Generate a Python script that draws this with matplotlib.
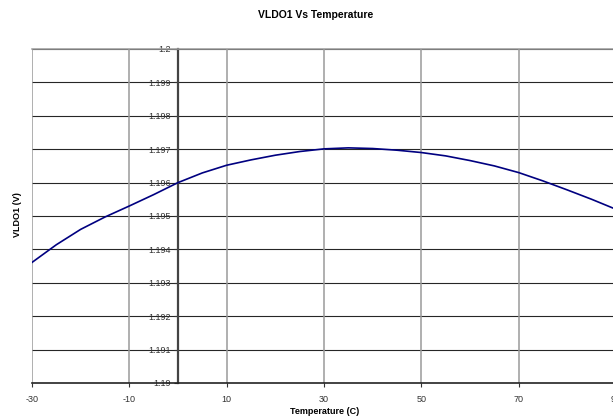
import numpy as np
import matplotlib
matplotlib.use("Agg")
import matplotlib.pyplot as plt

plt.rcParams['font.family'] = ['Liberation Sans', 'DejaVu Sans']

# VLDO1 output vs temperature
temperature = [-30, -25, -20, -15, -10, -5, 0, 5, 10, 15, 20, 25, 30,
               35, 40, 45, 50, 55, 60, 65, 70, 75, 80, 85, 90]
vldo1 = [1.19361, 1.19414, 1.19460, 1.19497, 1.19530, 1.19564, 1.19600,
         1.19629, 1.19652, 1.19668, 1.19682, 1.19693, 1.19701, 1.19704,
         1.19702, 1.19697, 1.19690, 1.19680, 1.19666, 1.19650, 1.19630,
         1.19605, 1.19578, 1.19550, 1.19520]

xticks = [-30, -10, 10, 30, 50, 70, 90]
yticks = [1.19, 1.191, 1.192, 1.193, 1.194, 1.195, 1.196, 1.197, 1.198, 1.199, 1.2]
ylabels = ['1.19', '1.191', '1.192', '1.193', '1.194', '1.195', '1.196',
           '1.197', '1.198', '1.199', '1.2']

fig = plt.figure(figsize=(6.13, 4.18), dpi=100)
ax = fig.add_axes([32/613, 1 - 383/418, 584/613, 334/418])

ax.set_xlim(-30, 90)
ax.set_ylim(1.19, 1.2)

# gridlines: dark horizontals, grey verticals
for yv in yticks[1:]:
    ax.axhline(yv, color='#262626', lw=0.8, zorder=1)
for xv in xticks[:-1]:
    ax.axvline(xv, color='#9a9a9a', lw=1.1, zorder=1)

ax.plot(temperature, vldo1, color='#000080', lw=1.2, zorder=3)

# excel style: y axis crosses at x = 0
ax.spines['left'].set_position(('data', 0))
ax.spines['left'].set_color('#444444')
ax.spines['left'].set_linewidth(1.6)
ax.spines['left'].set_zorder(2)
ax.spines['right'].set_visible(False)
ax.spines['top'].set_color('#9a9a9a')
ax.spines['top'].set_linewidth(1.1)
ax.spines['bottom'].set_color('#222222')
ax.spines['bottom'].set_linewidth(1.2)

ax.set_xticks(xticks)
ax.set_xticklabels([str(t) for t in xticks])
ax.set_yticks(yticks)
ax.set_yticklabels(ylabels)
ax.tick_params(axis='both', direction='out', length=3, width=0.8,
               colors='#333333', labelsize=6.5, pad=2)
ax.tick_params(axis='x', pad=6)

fig.text(316/613, 1 - 15/418, 'VLDO1 Vs Temperature', ha='center', va='center',
         fontsize=7.5, fontweight='bold')
fig.text(325/613, 1 - 411/418, 'Temperature (C)', ha='center', va='center',
         fontsize=6.5, fontweight='bold')
fig.text(17/613, 1 - 215/418, 'VLDO1 (V)', ha='center', va='center',
         fontsize=6.5, fontweight='bold', rotation=90)

fig.savefig('out.png', dpi=100)
